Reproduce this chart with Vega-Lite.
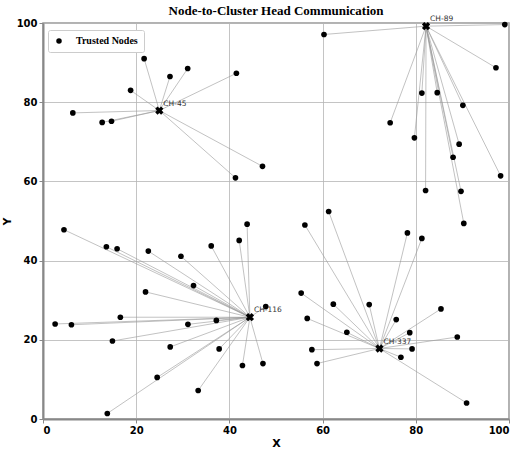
{
  "$schema": "https://vega.github.io/schema/vega-lite/v6.json",
  "width": 466,
  "height": 396,
  "autosize": "none",
  "padding": {"left": 43, "top": 23, "right": 17, "bottom": 32},
  "title": {"text": "Node-to-Cluster Head Communication", "font": "Liberation Serif", "fontSize": 13, "fontWeight": "bold", "color": "black", "offset": -3},
  "config": {
    "view": {"stroke": "#999", "strokeWidth": 1.5},
    "axis": {
      "labelFont": "DejaVu Sans", "labelFontWeight": "bold", "labelFontSize": 10, "labelColor": "black",
      "titleFont": "DejaVu Sans", "titleFontWeight": "bold", "titleFontSize": 11, "titleColor": "black",
      "domainColor": "#888", "domainWidth": 2, "tickColor": "#888", "tickSize": 4,
      "gridColor": "#b5b5b5", "gridWidth": 0.8
    }
  },
  "datasets": {
    "heads": [
      {"ch": "CH-45", "hx": 24.96, "hy": 77.9},
      {"ch": "CH-89", "hx": 82.2, "hy": 99.2},
      {"ch": "CH-116", "hx": 44.4, "hy": 25.7},
      {"ch": "CH-337", "hx": 72.2, "hy": 17.8}
    ],
    "nodes": [
      {"ch": "CH-45", "x": 21.7, "y": 91.0, "type": "Trusted Nodes"},
      {"ch": "CH-45", "x": 31.05, "y": 88.5, "type": "Trusted Nodes"},
      {"ch": "CH-45", "x": 27.25, "y": 86.5, "type": "Trusted Nodes"},
      {"ch": "CH-45", "x": 41.5, "y": 87.3, "type": "Trusted Nodes"},
      {"ch": "CH-45", "x": 18.8, "y": 83.0, "type": "Trusted Nodes"},
      {"ch": "CH-45", "x": 6.4, "y": 77.3, "type": "Trusted Nodes"},
      {"ch": "CH-45", "x": 12.7, "y": 74.9, "type": "Trusted Nodes"},
      {"ch": "CH-45", "x": 14.7, "y": 75.2, "type": "Trusted Nodes"},
      {"ch": "CH-45", "x": 47.1, "y": 63.8, "type": "Trusted Nodes"},
      {"ch": "CH-45", "x": 41.3, "y": 60.9, "type": "Trusted Nodes"},
      {"ch": "CH-89", "x": 60.3, "y": 97.1, "type": "Trusted Nodes"},
      {"ch": "CH-89", "x": 99.1, "y": 99.6, "type": "Trusted Nodes"},
      {"ch": "CH-89", "x": 97.2, "y": 88.7, "type": "Trusted Nodes"},
      {"ch": "CH-89", "x": 81.3, "y": 82.3, "type": "Trusted Nodes"},
      {"ch": "CH-89", "x": 84.6, "y": 82.4, "type": "Trusted Nodes"},
      {"ch": "CH-89", "x": 90.1, "y": 79.2, "type": "Trusted Nodes"},
      {"ch": "CH-89", "x": 74.5, "y": 74.8, "type": "Trusted Nodes"},
      {"ch": "CH-89", "x": 79.7, "y": 71.0, "type": "Trusted Nodes"},
      {"ch": "CH-89", "x": 89.3, "y": 69.4, "type": "Trusted Nodes"},
      {"ch": "CH-89", "x": 88.0, "y": 66.1, "type": "Trusted Nodes"},
      {"ch": "CH-89", "x": 98.2, "y": 61.4, "type": "Trusted Nodes"},
      {"ch": "CH-89", "x": 82.1, "y": 57.7, "type": "Trusted Nodes"},
      {"ch": "CH-89", "x": 89.7, "y": 57.5, "type": "Trusted Nodes"},
      {"ch": "CH-89", "x": 90.3, "y": 49.4, "type": "Trusted Nodes"},
      {"ch": "CH-116", "x": 4.5, "y": 47.8, "type": "Trusted Nodes"},
      {"ch": "CH-116", "x": 13.6, "y": 43.5, "type": "Trusted Nodes"},
      {"ch": "CH-116", "x": 15.9, "y": 43.0, "type": "Trusted Nodes"},
      {"ch": "CH-116", "x": 22.6, "y": 42.4, "type": "Trusted Nodes"},
      {"ch": "CH-116", "x": 29.6, "y": 41.1, "type": "Trusted Nodes"},
      {"ch": "CH-116", "x": 36.1, "y": 43.7, "type": "Trusted Nodes"},
      {"ch": "CH-116", "x": 42.1, "y": 45.1, "type": "Trusted Nodes"},
      {"ch": "CH-116", "x": 43.8, "y": 49.2, "type": "Trusted Nodes"},
      {"ch": "CH-116", "x": 32.3, "y": 33.7, "type": "Trusted Nodes"},
      {"ch": "CH-116", "x": 22.0, "y": 32.1, "type": "Trusted Nodes"},
      {"ch": "CH-116", "x": 47.8, "y": 28.4, "type": "Trusted Nodes"},
      {"ch": "CH-116", "x": 16.6, "y": 25.7, "type": "Trusted Nodes"},
      {"ch": "CH-116", "x": 2.6, "y": 24.0, "type": "Trusted Nodes"},
      {"ch": "CH-116", "x": 6.1, "y": 23.8, "type": "Trusted Nodes"},
      {"ch": "CH-116", "x": 31.1, "y": 23.9, "type": "Trusted Nodes"},
      {"ch": "CH-116", "x": 37.2, "y": 24.9, "type": "Trusted Nodes"},
      {"ch": "CH-116", "x": 14.9, "y": 19.7, "type": "Trusted Nodes"},
      {"ch": "CH-116", "x": 27.3, "y": 18.2, "type": "Trusted Nodes"},
      {"ch": "CH-116", "x": 37.8, "y": 17.7, "type": "Trusted Nodes"},
      {"ch": "CH-116", "x": 42.8, "y": 13.5, "type": "Trusted Nodes"},
      {"ch": "CH-116", "x": 47.2, "y": 14.0, "type": "Trusted Nodes"},
      {"ch": "CH-116", "x": 24.5, "y": 10.5, "type": "Trusted Nodes"},
      {"ch": "CH-116", "x": 33.3, "y": 7.2, "type": "Trusted Nodes"},
      {"ch": "CH-116", "x": 13.8, "y": 1.4, "type": "Trusted Nodes"},
      {"ch": "CH-337", "x": 61.3, "y": 52.4, "type": "Trusted Nodes"},
      {"ch": "CH-337", "x": 56.2, "y": 49.0, "type": "Trusted Nodes"},
      {"ch": "CH-337", "x": 78.2, "y": 47.0, "type": "Trusted Nodes"},
      {"ch": "CH-337", "x": 81.3, "y": 45.6, "type": "Trusted Nodes"},
      {"ch": "CH-337", "x": 55.4, "y": 31.8, "type": "Trusted Nodes"},
      {"ch": "CH-337", "x": 62.3, "y": 29.0, "type": "Trusted Nodes"},
      {"ch": "CH-337", "x": 70.0, "y": 28.9, "type": "Trusted Nodes"},
      {"ch": "CH-337", "x": 85.4, "y": 27.8, "type": "Trusted Nodes"},
      {"ch": "CH-337", "x": 75.8, "y": 25.1, "type": "Trusted Nodes"},
      {"ch": "CH-337", "x": 56.7, "y": 25.4, "type": "Trusted Nodes"},
      {"ch": "CH-337", "x": 65.2, "y": 21.9, "type": "Trusted Nodes"},
      {"ch": "CH-337", "x": 78.7, "y": 21.8, "type": "Trusted Nodes"},
      {"ch": "CH-337", "x": 88.9, "y": 20.7, "type": "Trusted Nodes"},
      {"ch": "CH-337", "x": 79.2, "y": 17.7, "type": "Trusted Nodes"},
      {"ch": "CH-337", "x": 57.7, "y": 17.5, "type": "Trusted Nodes"},
      {"ch": "CH-337", "x": 76.8, "y": 15.6, "type": "Trusted Nodes"},
      {"ch": "CH-337", "x": 58.8, "y": 14.0, "type": "Trusted Nodes"},
      {"ch": "CH-337", "x": 90.9, "y": 4.05, "type": "Trusted Nodes"}
    ]
  },
  "layer": [
    {
      "data": {"name": "nodes"},
      "transform": [{"lookup": "ch", "from": {"data": {"name": "heads"}, "key": "ch", "fields": ["hx", "hy"]}}],
      "mark": {"type": "rule", "color": "#999", "strokeWidth": 0.6},
      "encoding": {
        "x": {"field": "x", "type": "quantitative", "scale": {"domain": [0, 100], "nice": false}, "axis": {"title": "X", "titlePadding": 2, "labelPadding": 2, "values": [0, 20, 40, 60, 80, 100]}},
        "y": {"field": "y", "type": "quantitative", "scale": {"domain": [0, 100], "nice": false}, "axis": {"title": "Y", "titlePadding": 4, "labelPadding": 2, "values": [0, 20, 40, 60, 80, 100]}},
        "x2": {"field": "hx"},
        "y2": {"field": "hy"}
      }
    },
    {
      "data": {"name": "nodes"},
      "mark": {"type": "point", "filled": true, "size": 32, "opacity": 1, "shape": "circle"},
      "encoding": {
        "x": {"field": "x", "type": "quantitative"},
        "y": {"field": "y", "type": "quantitative"},
        "color": {
          "field": "type", "type": "nominal",
          "scale": {"domain": ["Trusted Nodes"], "range": ["black"]},
          "legend": {
            "title": null, "orient": "none", "legendX": 5, "legendY": 7,
            "fillColor": "white", "strokeColor": "#ccc", "padding": 6, "cornerRadius": 2,
            "labelFont": "Liberation Serif", "labelFontWeight": "bold", "labelFontSize": 10, "labelColor": "black",
            "symbolSize": 30, "symbolType": "circle", "labelOffset": 12
          }
        }
      }
    },
    {
      "data": {"name": "heads"},
      "mark": {"type": "point", "shape": "cross", "angle": 45, "filled": true, "size": 70, "color": "black", "opacity": 1},
      "encoding": {
        "x": {"field": "hx", "type": "quantitative"},
        "y": {"field": "hy", "type": "quantitative"}
      }
    },
    {
      "data": {"name": "heads"},
      "mark": {"type": "text", "font": "DejaVu Sans", "fontSize": 7.5, "color": "#333", "align": "left", "baseline": "middle", "dx": 4, "dy": -7},
      "encoding": {
        "x": {"field": "hx", "type": "quantitative"},
        "y": {"field": "hy", "type": "quantitative"},
        "text": {"field": "ch"}
      }
    }
  ]
}
